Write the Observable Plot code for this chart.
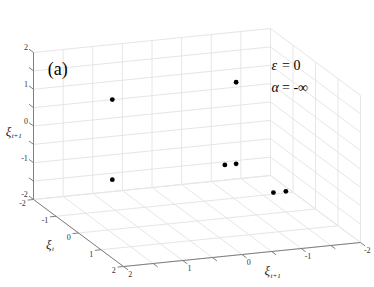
<!DOCTYPE html>
<html><head><meta charset="utf-8">
<script src="https://cdn.jsdelivr.net/npm/d3@7"></script>
<script src="https://cdn.jsdelivr.net/npm/@observablehq/plot@0.6"></script>
<style>body{margin:0;background:#fff}</style>
</head><body><div id="chart"></div>
<script>
// ---- data (3D return-map points) ----
const xiT  = [-1, -1, -1, -1, -1, 1, 1];
const xiT1 = [1.05, -1.04, 1.05, -0.85, -1.04, -0.91, -1.12];
const xiZ  = [1.02, 1.15, -1.16, -1.07, -1.07, -0.92, -0.92];
// tick labels
const tickLabelsT  = [-2, -1, 0, 1, 2];
const tickLabelsT1 = [2, 1, 0, -1, -2];
const tickLabelsZ  = [2, 1, 0, -1, -2];
// grid / tick positions
const gridT  = [-2, -1, 0, 1, 2];
const gridT1 = [-2, -1.5, -1, -0.5, 0, 0.5, 1, 1.5, 2];
const gridZ  = [-2, -1.5, -1, -0.5, 0, 0.5, 1, 1.5, 2];
const annSymbols = ["ε", "α"];
const annRest = [" = 0", " = -∞"];
const panelLabel = "(a)";

// ---- view (orthographic 3D -> screen) ----
const W = 374, H = 287;
const view = {o: [33, 199], a: [22.5, 16.75], b: [-59.25, 6], c: [0, -36.75]};
function P(a, b, c) {
  const da = a + 2, db = b - 2, dc = c + 2;
  return [view.o[0] + view.a[0]*da + view.b[0]*db + view.c[0]*dc,
          view.o[1] + view.a[1]*da + view.b[1]*db + view.c[1]*dc];
}
function seg(p, q) { const A = P(...p), B = P(...q); return {x1: A[0], y1: A[1], x2: B[0], y2: B[1]}; }
function pt(a, b, c, extra) { const A = P(a, b, c); return Object.assign({x: A[0], y: A[1]}, extra); }

// grid lines on the three back planes
const grid = [];
for (const b of gridT1) grid.push(seg([-2, b, -2], [-2, b, 2]));
for (const z of gridZ)  grid.push(seg([-2, 2, z], [-2, -2, z]));
for (const a of gridT)  grid.push(seg([a, -2, -2], [a, -2, 2]));
for (const z of gridZ)  grid.push(seg([-2, -2, z], [2, -2, z]));
for (const a of gridT)  grid.push(seg([a, 2, -2], [a, -2, -2]));
for (const b of gridT1) grid.push(seg([-2, b, -2], [2, b, -2]));

const axes = [seg([-2, 2, -2], [-2, 2, 2]), seg([-2, 2, -2], [2, 2, -2]), seg([2, 2, -2], [2, -2, -2])];
const ticks = [];
for (const z of gridZ)  ticks.push(seg([-2, 2, z], [-2.2, 2, z]));
for (const a of gridT)  ticks.push(seg([a, 2, -2], [a, 2.1, -2]));
for (const b of gridT1) ticks.push(seg([2, b, -2], [2.2, b, -2]));

const labZ  = tickLabelsZ.map(z => pt(-2.25, 2, z, {t: String(z)}));
const labT  = tickLabelsT.map(a => pt(a, 2.13, -2, {t: String(a)}));
const labT1 = tickLabelsT1.map(b => pt(2.3, b, -2, {t: String(b)}));

const points = xiT.map((a, i) => pt(a, xiT1[i], xiZ[i]));

const titles = [pt(-2, 2.47, -0.07, {t: "t+1"}), pt(0.45, 2.72, -2, {t: "t"}), pt(3.0, 0.0, -2, {t: "t+1"})];
const ann = annSymbols.map((s, i) => pt(-2, -2, i === 0 ? 1.0 : 0.4, {s, r: annRest[i]}));
const panel = [pt(-2, 1.76, 1.5, {t: panelLabel})];

const serif = "'Liberation Serif', 'Times New Roman', 'DejaVu Serif', serif";
const chart = Plot.plot({
  width: W, height: H,
  margin: 0,
  x: {domain: [0, W], range: [0, W], axis: null},
  y: {domain: [0, H], range: [0, H], axis: null},
  style: {background: "#fff", fontFamily: serif},
  marks: [
    Plot.link(grid, {x1: "x1", y1: "y1", x2: "x2", y2: "y2", stroke: "#e6e6e6", strokeWidth: 1}),
    Plot.link(axes, {x1: "x1", y1: "y1", x2: "x2", y2: "y2", stroke: "#7f7f7f", strokeWidth: 1}),
    Plot.link(ticks, {x1: "x1", y1: "y1", x2: "x2", y2: "y2", stroke: "#7f7f7f", strokeWidth: 1}),
    Plot.text(labZ, {x: "x", y: "y", text: "t", textAnchor: "end", dy: -0.5, fontFamily: serif, fontSize: 8, fill: "#333"}),
    Plot.text(labT, {x: "x", y: "y", text: "t", textAnchor: "end", dy: 3.5, fontFamily: serif, fontSize: 8, fill: "#333"}),
    Plot.text(labT1, {x: "x", y: "y", text: "t", textAnchor: "middle", dy: 3, fontFamily: serif, fontSize: 8, fill: "#333"}),
    Plot.text(titles, {x: "x", y: "y", text: () => "ξ", textAnchor: "start", fontFamily: serif, fontStyle: "italic", fontSize: 13, fill: "#222"}),
    Plot.text(titles, {x: "x", y: "y", text: "t", textAnchor: "start", dx: 6, dy: 4, fontFamily: serif, fontStyle: "italic", fontSize: 7, fill: "#222"}),
    Plot.dot(points, {x: "x", y: "y", r: 2.4, fill: "black", stroke: "none"}),
    Plot.text(panel, {x: "x", y: "y", text: "t", textAnchor: "start", fontFamily: serif, fontSize: 18, fill: "#000"}),
    Plot.text(ann, {x: "x", y: "y", text: "s", textAnchor: "start", dx: 1, fontFamily: serif, fontStyle: "italic", fontSize: 14, fill: "#000"}),
    Plot.text(ann, {x: "x", y: "y", text: "r", textAnchor: "start", dx: 8, fontFamily: serif, fontSize: 14, fill: "#000"})
  ]
});
document.getElementById("chart").appendChild(chart);
</script>
</body></html>
